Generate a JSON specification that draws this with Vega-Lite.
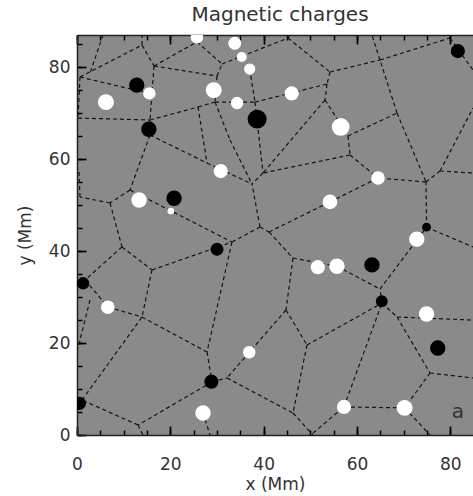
{
  "$schema": "https://vega.github.io/schema/vega-lite/v6.json",
  "width": 396,
  "height": 400,
  "autosize": {"type": "none"},
  "padding": {"left": 77, "top": 35, "right": 0, "bottom": 61},
  "background": "white",
  "config": {
    "view": {"fill": "#8a8a8a", "stroke": null},
    "font": "DejaVu Sans",
    "axis": {"zindex": 2}
  },
  "title": {
    "text": "Magnetic charges",
    "font": "DejaVu Sans",
    "fontSize": 20,
    "fontWeight": "normal",
    "color": "#333333",
    "anchor": "middle",
    "frame": "group",
    "offset": 10,
    "dx": 5
  },
  "datasets": {
    "edges": [
      {"x1": 5.57, "y1": 87.0, "x2": 2.79, "y2": 78.73},
      {"x1": 0.64, "y1": 77.86, "x2": 13.93, "y2": 84.82},
      {"x1": 13.93, "y1": 84.82, "x2": 13.93, "y2": 87.0},
      {"x1": 13.93, "y1": 84.82, "x2": 16.5, "y2": 80.25},
      {"x1": 16.5, "y1": 80.25, "x2": 25.7, "y2": 85.5},
      {"x1": 25.7, "y1": 85.5, "x2": 31.07, "y2": 80.69},
      {"x1": 16.5, "y1": 80.25, "x2": 30.0, "y2": 78.08},
      {"x1": 30.0, "y1": 78.08, "x2": 31.07, "y2": 80.69},
      {"x1": 31.07, "y1": 80.69, "x2": 45.21, "y2": 86.34},
      {"x1": 45.21, "y1": 86.34, "x2": 45.6, "y2": 87.0},
      {"x1": 45.21, "y1": 86.34, "x2": 54.21, "y2": 78.95},
      {"x1": 54.21, "y1": 78.95, "x2": 64.92, "y2": 81.56},
      {"x1": 64.92, "y1": 81.56, "x2": 79.92, "y2": 86.34},
      {"x1": 64.92, "y1": 81.56, "x2": 63.2, "y2": 87.0},
      {"x1": 79.92, "y1": 86.34, "x2": 80.0, "y2": 87.0},
      {"x1": 79.92, "y1": 86.34, "x2": 84.85, "y2": 79.38},
      {"x1": 0.64, "y1": 77.86, "x2": 0.21, "y2": 68.94},
      {"x1": 0.64, "y1": 77.86, "x2": 15.5, "y2": 74.3},
      {"x1": 16.5, "y1": 80.25, "x2": 15.64, "y2": 68.51},
      {"x1": 0.21, "y1": 68.94, "x2": 15.64, "y2": 68.51},
      {"x1": 15.64, "y1": 68.51, "x2": 25.93, "y2": 71.34},
      {"x1": 25.93, "y1": 71.34, "x2": 29.57, "y2": 72.42},
      {"x1": 29.57, "y1": 72.42, "x2": 38.14, "y2": 72.42},
      {"x1": 38.14, "y1": 72.42, "x2": 53.57, "y2": 76.34},
      {"x1": 54.21, "y1": 78.95, "x2": 53.57, "y2": 76.34},
      {"x1": 53.57, "y1": 76.34, "x2": 53.14, "y2": 72.86},
      {"x1": 30.0, "y1": 78.08, "x2": 29.57, "y2": 72.42},
      {"x1": 25.93, "y1": 71.34, "x2": 27.86, "y2": 59.16},
      {"x1": 29.57, "y1": 72.42, "x2": 32.78, "y2": 64.16},
      {"x1": 32.78, "y1": 64.16, "x2": 37.5, "y2": 54.59},
      {"x1": 38.14, "y1": 72.42, "x2": 39.86, "y2": 56.98},
      {"x1": 37.0, "y1": 79.6, "x2": 38.14, "y2": 72.42},
      {"x1": 53.14, "y1": 72.86, "x2": 39.86, "y2": 56.98},
      {"x1": 53.14, "y1": 72.86, "x2": 58.07, "y2": 65.03},
      {"x1": 58.07, "y1": 65.03, "x2": 68.57, "y2": 70.03},
      {"x1": 58.07, "y1": 65.03, "x2": 58.5, "y2": 60.9},
      {"x1": 68.57, "y1": 70.03, "x2": 64.92, "y2": 81.56},
      {"x1": 68.57, "y1": 70.03, "x2": 74.78, "y2": 55.02},
      {"x1": 74.78, "y1": 55.02, "x2": 77.78, "y2": 57.42},
      {"x1": 77.78, "y1": 57.42, "x2": 84.85, "y2": 56.98},
      {"x1": 77.78, "y1": 57.42, "x2": 84.85, "y2": 71.12},
      {"x1": 74.78, "y1": 55.02, "x2": 64.5, "y2": 55.9},
      {"x1": 58.5, "y1": 60.9, "x2": 64.5, "y2": 55.9},
      {"x1": 58.5, "y1": 60.9, "x2": 39.86, "y2": 56.98},
      {"x1": 39.86, "y1": 56.98, "x2": 37.5, "y2": 54.59},
      {"x1": 15.64, "y1": 68.51, "x2": 15.64, "y2": 65.25},
      {"x1": 15.64, "y1": 65.25, "x2": 27.86, "y2": 59.16},
      {"x1": 27.86, "y1": 59.16, "x2": 37.5, "y2": 54.59},
      {"x1": 15.64, "y1": 65.25, "x2": 11.36, "y2": 53.28},
      {"x1": 11.36, "y1": 53.28, "x2": 7.07, "y2": 50.46},
      {"x1": 7.07, "y1": 50.46, "x2": 0.64, "y2": 51.76},
      {"x1": 0.64, "y1": 51.76, "x2": 0.43, "y2": 57.2},
      {"x1": 11.36, "y1": 53.28, "x2": 33.21, "y2": 41.97},
      {"x1": 7.07, "y1": 50.46, "x2": 9.64, "y2": 40.89},
      {"x1": 9.64, "y1": 40.89, "x2": 16.07, "y2": 35.89},
      {"x1": 9.64, "y1": 40.89, "x2": 1.71, "y2": 33.71},
      {"x1": 1.71, "y1": 33.71, "x2": 6.64, "y2": 27.84},
      {"x1": 6.64, "y1": 27.84, "x2": 13.93, "y2": 25.66},
      {"x1": 16.07, "y1": 35.89, "x2": 13.93, "y2": 25.66},
      {"x1": 16.07, "y1": 35.89, "x2": 33.21, "y2": 41.97},
      {"x1": 33.21, "y1": 41.97, "x2": 39.21, "y2": 45.24},
      {"x1": 39.21, "y1": 45.24, "x2": 37.5, "y2": 54.59},
      {"x1": 39.21, "y1": 45.24, "x2": 41.14, "y2": 44.15},
      {"x1": 41.14, "y1": 44.15, "x2": 54.2, "y2": 50.7},
      {"x1": 54.2, "y1": 50.7, "x2": 64.5, "y2": 55.9},
      {"x1": 41.14, "y1": 44.15, "x2": 46.28, "y2": 38.49},
      {"x1": 46.28, "y1": 38.49, "x2": 55.7, "y2": 36.7},
      {"x1": 55.7, "y1": 36.7, "x2": 64.92, "y2": 31.75},
      {"x1": 33.21, "y1": 41.97, "x2": 27.86, "y2": 18.05},
      {"x1": 46.28, "y1": 38.49, "x2": 44.78, "y2": 27.19},
      {"x1": 44.78, "y1": 27.19, "x2": 49.28, "y2": 19.57},
      {"x1": 44.78, "y1": 27.19, "x2": 32.14, "y2": 12.4},
      {"x1": 49.28, "y1": 19.57, "x2": 65.35, "y2": 28.71},
      {"x1": 49.28, "y1": 19.57, "x2": 46.28, "y2": 4.78},
      {"x1": 32.14, "y1": 12.4, "x2": 46.28, "y2": 4.78},
      {"x1": 46.28, "y1": 4.78, "x2": 50.57, "y2": 0.0},
      {"x1": 50.57, "y1": 0.4, "x2": 57.2, "y2": 6.1},
      {"x1": 57.2, "y1": 6.1, "x2": 70.2, "y2": 5.9},
      {"x1": 57.2, "y1": 6.1, "x2": 65.35, "y2": 28.71},
      {"x1": 65.35, "y1": 28.71, "x2": 64.92, "y2": 31.75},
      {"x1": 64.92, "y1": 31.75, "x2": 74.9, "y2": 45.2},
      {"x1": 74.9, "y1": 45.2, "x2": 74.78, "y2": 55.02},
      {"x1": 74.9, "y1": 45.2, "x2": 84.85, "y2": 40.89},
      {"x1": 65.35, "y1": 28.71, "x2": 68.57, "y2": 25.66},
      {"x1": 68.57, "y1": 25.66, "x2": 84.85, "y2": 25.0},
      {"x1": 68.57, "y1": 25.66, "x2": 75.64, "y2": 13.48},
      {"x1": 75.64, "y1": 13.48, "x2": 84.85, "y2": 12.4},
      {"x1": 75.64, "y1": 13.48, "x2": 70.2, "y2": 5.9},
      {"x1": 70.2, "y1": 5.9, "x2": 75.64, "y2": 0.0},
      {"x1": 27.86, "y1": 18.05, "x2": 28.93, "y2": 11.53},
      {"x1": 28.93, "y1": 11.53, "x2": 32.14, "y2": 12.4},
      {"x1": 28.93, "y1": 11.53, "x2": 13.07, "y2": 2.17},
      {"x1": 13.07, "y1": 2.17, "x2": 14.14, "y2": 0.0},
      {"x1": 13.07, "y1": 2.17, "x2": 1.07, "y2": 7.61},
      {"x1": 1.07, "y1": 7.61, "x2": 13.93, "y2": 25.66},
      {"x1": 13.93, "y1": 25.66, "x2": 27.86, "y2": 18.05},
      {"x1": 2.79, "y1": 29.36, "x2": 0.21, "y2": 18.92},
      {"x1": 27.0, "y1": 4.8, "x2": 28.5, "y2": 0.0}
    ],
    "charges": [
      {"x": 25.7, "y": 86.5, "flux": 49, "polarity": "positive"},
      {"x": 33.8, "y": 85.2, "flux": 53, "polarity": "positive"},
      {"x": 35.3, "y": 82.2, "flux": 32, "polarity": "positive"},
      {"x": 37.0, "y": 79.6, "flux": 40, "polarity": "positive"},
      {"x": 15.5, "y": 74.3, "flux": 49, "polarity": "positive"},
      {"x": 6.2, "y": 72.4, "flux": 81, "polarity": "positive"},
      {"x": 29.3, "y": 75.0, "flux": 81, "polarity": "positive"},
      {"x": 34.3, "y": 72.2, "flux": 49, "polarity": "positive"},
      {"x": 46.0, "y": 74.3, "flux": 64, "polarity": "positive"},
      {"x": 56.5, "y": 67.0, "flux": 100, "polarity": "positive"},
      {"x": 30.8, "y": 57.4, "flux": 64, "polarity": "positive"},
      {"x": 64.5, "y": 55.9, "flux": 59, "polarity": "positive"},
      {"x": 13.3, "y": 51.1, "flux": 76, "polarity": "positive"},
      {"x": 20.1, "y": 48.7, "flux": 14, "polarity": "positive"},
      {"x": 54.2, "y": 50.7, "flux": 69, "polarity": "positive"},
      {"x": 72.8, "y": 42.6, "flux": 76, "polarity": "positive"},
      {"x": 51.6, "y": 36.5, "flux": 64, "polarity": "positive"},
      {"x": 55.7, "y": 36.7, "flux": 76, "polarity": "positive"},
      {"x": 6.6, "y": 27.8, "flux": 59, "polarity": "positive"},
      {"x": 74.9, "y": 26.3, "flux": 76, "polarity": "positive"},
      {"x": 36.9, "y": 18.0, "flux": 49, "polarity": "positive"},
      {"x": 27.0, "y": 4.8, "flux": 76, "polarity": "positive"},
      {"x": 57.2, "y": 6.1, "flux": 64, "polarity": "positive"},
      {"x": 70.2, "y": 5.9, "flux": 81, "polarity": "positive"},
      {"x": 12.8, "y": 76.1, "flux": 76, "polarity": "negative"},
      {"x": 38.6, "y": 68.7, "flux": 114, "polarity": "negative"},
      {"x": 81.6, "y": 83.5, "flux": 64, "polarity": "negative"},
      {"x": 15.4, "y": 66.5, "flux": 76, "polarity": "negative"},
      {"x": 20.8, "y": 51.5, "flux": 76, "polarity": "negative"},
      {"x": 74.9, "y": 45.2, "flux": 25, "polarity": "negative"},
      {"x": 30.0, "y": 40.4, "flux": 53, "polarity": "negative"},
      {"x": 63.2, "y": 37.0, "flux": 76, "polarity": "negative"},
      {"x": 1.3, "y": 33.0, "flux": 49, "polarity": "negative"},
      {"x": 65.3, "y": 29.1, "flux": 45, "polarity": "negative"},
      {"x": 77.3, "y": 18.9, "flux": 76, "polarity": "negative"},
      {"x": 28.8, "y": 11.6, "flux": 64, "polarity": "negative"},
      {"x": 0.5, "y": 6.9, "flux": 56, "polarity": "negative"}
    ],
    "panel": [
      {"x": 81.6, "y": 5.0, "label": "a"}
    ]
  },
  "layer": [
    {
      "data": {"name": "edges"},
      "mark": {"type": "rule", "strokeDash": [4, 3], "color": "#141414", "strokeWidth": 1.2, "clip": true},
      "encoding": {
        "x": {
          "field": "x1",
          "type": "quantitative",
          "scale": {"domain": [0, 84.85], "nice": false, "zero": false},
          "axis": {
            "orient": "bottom",
            "values": [0, 20, 40, 60, 80],
            "ticks": false,
            "grid": true,
            "gridColor": "#000000",
            "gridOpacity": 1,
            "gridWidth": 1.7,
            "gridDash": [9, 382, 9, 1000],
            "domainColor": "#222222",
            "domainWidth": 1.5,
            "labelFlush": false,
            "labelOverlap": false,
            "labelFont": "DejaVu Sans",
            "labelFontSize": 17,
            "labelColor": "#333333",
            "labelPadding": 21,
            "title": "x (Mm)",
            "titleFont": "DejaVu Sans",
            "titleFontSize": 17,
            "titleFontWeight": "normal",
            "titleColor": "#333333",
            "titlePadding": 4
          }
        },
        "x2": {"field": "x2"},
        "y": {
          "field": "y1",
          "type": "quantitative",
          "scale": {"domain": [0, 87], "nice": false, "zero": false},
          "axis": {
            "orient": "left",
            "values": [0, 20, 40, 60, 80],
            "ticks": false,
            "grid": true,
            "gridColor": "#000000",
            "gridOpacity": 1,
            "gridWidth": 1.7,
            "gridDash": [9, 1000],
            "domainColor": "#222222",
            "domainWidth": 1.5,
            "labelFlush": false,
            "labelOverlap": false,
            "labelFont": "DejaVu Sans",
            "labelFontSize": 17,
            "labelColor": "#333333",
            "labelPadding": 7,
            "title": "y (Mm)",
            "titleFont": "DejaVu Sans",
            "titleFontSize": 17,
            "titleFontWeight": "normal",
            "titleColor": "#333333",
            "titlePadding": 14
          }
        },
        "y2": {"field": "y2"}
      }
    },
    {
      "data": {"name": "charges"},
      "mark": {"type": "circle", "opacity": 1, "clip": true, "strokeWidth": 0},
      "encoding": {
        "x": {
          "field": "x",
          "type": "quantitative",
          "axis": {
            "orient": "top",
            "values": [0, 5, 10, 15, 20, 25, 30, 35, 40, 45, 50, 55, 60, 65, 70, 75, 80],
            "labels": false,
            "title": null,
            "ticks": false,
            "grid": true,
            "gridColor": "#000000",
            "gridOpacity": 1,
            "gridWidth": 1.5,
            "gridDash": [5, 390, 5, 1000],
            "domainColor": "#222222",
            "domainWidth": 1.5
          }
        },
        "y": {
          "field": "y",
          "type": "quantitative",
          "axis": {
            "orient": "left",
            "values": [0, 5, 10, 15, 20, 25, 30, 35, 40, 45, 50, 55, 60, 65, 70, 75, 80, 85],
            "labels": false,
            "title": null,
            "ticks": false,
            "domain": false,
            "grid": true,
            "gridColor": "#000000",
            "gridOpacity": 1,
            "gridWidth": 1.5,
            "gridDash": [5, 1000]
          }
        },
        "size": {
          "field": "flux",
          "type": "quantitative",
          "scale": {"type": "linear", "zero": true, "domain": [0, 120], "range": [0, 377]},
          "legend": null
        },
        "color": {
          "field": "polarity",
          "type": "nominal",
          "scale": {"domain": ["positive", "negative"], "range": ["#ffffff", "#000000"]},
          "legend": null
        }
      }
    },
    {
      "data": {"name": "panel"},
      "mark": {"type": "text", "font": "DejaVu Sans", "fontSize": 20, "color": "#333333", "align": "center", "baseline": "middle"},
      "encoding": {
        "x": {"field": "x", "type": "quantitative", "axis": null},
        "y": {"field": "y", "type": "quantitative", "axis": null},
        "text": {"field": "label"}
      }
    }
  ],
  "resolve": {"axis": {"x": "independent", "y": "independent"}}
}
